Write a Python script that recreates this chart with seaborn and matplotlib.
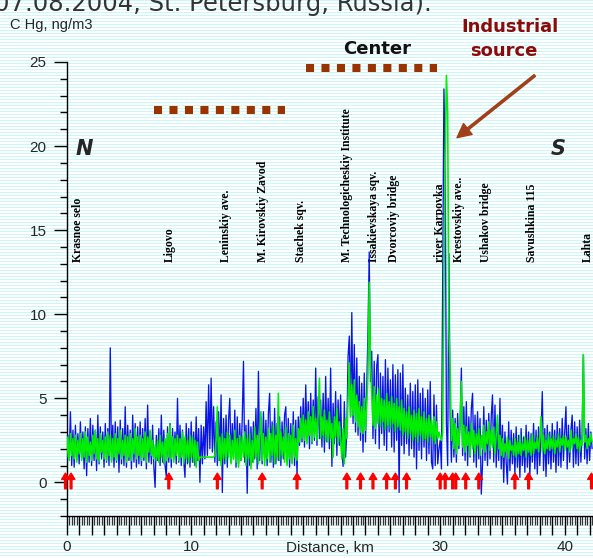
import numpy as np
import pandas as pd
import matplotlib
matplotlib.use("Agg")
import matplotlib.pyplot as plt
from matplotlib.ticker import MultipleLocator, FuncFormatter
from matplotlib import font_manager as fm
import seaborn as sns

# ---------------- data ----------------
distance_km = np.round(np.arange(0, 42.25, 0.1), 1)

hg_blue = [
    1.2, 2.8, 1.5, 4.2, 1.0, 3.1, 0.9, 3.4, 1.3, 2.9,
    1.1, 3.6, 1.4, 3.0, 0.8, 3.3, 0.4, 3.2, 1.2, 3.8,
    1.0, 3.4, 1.3, 3.1, 0.7, 4.0, 1.1, 3.3, 1.4, 3.0,
    0.9, 3.5, 1.2, 3.2, 1.0, 8.0, 1.3, 3.4, 0.9, 3.6,
    1.2, 3.3, 0.6, 3.7, 1.1, 3.2, 1.0, 4.5, 0.9, 3.4,
    1.3, 3.1, 0.8, 4.0, 1.2, 3.5, 0.9, 3.3, 1.1, 3.6,
    1.0, 3.2, 1.3, 3.8, 0.8, 4.6, 1.2, 3.0, 1.1, 3.4,
    0.9, -0.3, 2.8, 1.3, 3.2, 1.0, 4.0, 1.2, 3.1, 1.0,
    0.35, 3.3, 1.2, 3.5, 0.9, 3.2, 1.4, 3.0, 1.1, 5.0,
    1.2, 3.4, 1.0, 3.1, 1.3, 0.3, 3.5, 1.1, 3.2, 0.9,
    3.6, 1.2, 3.0, 1.0, 3.9, 1.3, 3.2, 0.0, 3.4, 1.1,
    3.3, 1.4, 4.8, 1.6, 5.8, 2.0, 6.2, 1.8, 4.5, 1.2,
    3.6, 1.0, 4.2, 1.3, 5.2, -0.6, 3.8, 1.1, 4.0, 0.9,
    3.7, 5.0, 1.2, 3.5, 1.4, 4.3, 0.9, 3.9, 1.1, 3.5,
    1.3, 3.8, 7.2, 1.2, 3.4, -0.65, 3.7, 1.0, 3.3, 1.2,
    3.6, 1.4, 4.4, 0.8, 6.6, 1.3, 3.9, 1.1, 4.2, 1.5,
    3.7, 1.0, 4.1, 5.3, 1.2, 3.6, 0.9, 4.4, 1.1, 3.5,
    1.3, 3.9, 1.0, 3.6, 1.4, 4.0, 4.5, 1.2, 3.8, 0.9,
    3.5, 1.2, 4.2, 1.0, 3.7, 0.4, 3.9, 2.2, 4.5, 2.4,
    5.0, 2.1, 5.8, 2.6, 4.8, 2.0, 5.3, 2.3, 4.9, 2.5,
    6.8, 2.2, 5.1, 2.6, 4.9, 2.1, 5.3, 1.8, 6.3, 2.4,
    5.0, 2.0, 6.8, 0.95, 4.7, 2.3, 5.4, 1.6, 4.9, 2.2,
    5.2, 1.9, 0.95, 4.8, 1.5, 3.0, 7.5, 8.7, 3.9, 10.1,
    3.5, 8.2, 3.0, 7.4, 2.8, 6.3, 2.5, 5.9, 1.8, 6.5,
    2.4, 5.8, 9.0, 13.7, 6.0, 7.8, 2.6, 7.2, 2.3, 6.9,
    7.6, 2.0, 6.5, 2.9, 6.3, 2.2, 7.3, 1.9, 6.8, 3.0,
    6.1, 2.1, 7.0, 1.8, 6.4, 2.5, 6.7, -0.6, 6.5, 2.2,
    7.0, 1.7, 5.6, 2.3, 5.2, 1.6, 5.9, 2.0, 5.4, 1.5,
    5.8, 0.8, 6.1, 1.9, 5.3, 1.4, 5.6, 2.1, 5.0, 1.3,
    5.5, 1.7, 6.0, 1.2, 0.8, 5.2, 1.0, 4.6, 1.1, 2.0,
    2.5, 0.8, 12.2, 23.4, 19.0, 3.5, 1.0, 13.6, 4.0, 1.2,
    4.3, 1.5, 3.8, 1.2, 4.1, 2.0, 3.6, 6.8, 1.6, 4.5,
    1.3, 4.8, 1.0, 3.9, 1.5, 4.4, 5.3, 1.2, 4.0, 0.9,
    4.2, 1.4, 3.8, -0.7, 1.1, 4.5, 1.3, 3.7, 1.0, 4.1,
    1.4, 3.9, 5.2, 1.2, 4.6, 0.9, 3.5, 1.3, 5.0, 0.8,
    3.4, 0.0, 3.0, 1.2, -0.1, 3.6, 0.7, 3.1, 1.1, 2.9,
    0.5, 3.3, 0.9, 2.8, 0.3, 3.2, 1.0, 2.7, 0.6, 3.4,
    0.9, 3.0, 0.4, 2.9, 1.2, 3.5, 0.8, 3.1, 0.5, 3.3,
    1.0, 2.9, 5.4, 0.7, 3.2, 0.35, 3.4, 1.1, 3.0, 0.8,
    3.5, 1.2, 3.1, 0.6, 3.6, 1.0, 3.2, 0.9, 3.8, 1.3,
    3.0, 4.5, 0.8, 3.4, 1.2, 3.1, 4.0, 0.9, 3.6, 1.1,
    3.3, 1.0, 3.7, 1.2, 3.0, 7.6, 1.4, 3.2, 1.1, 3.5,
    1.3, 3.0, 2.0,
]

hg_green = [
    1.5, 2.7, 1.3, 2.9, 1.6, 2.6, 1.4, 2.8, 1.2, 2.5,
    1.7, 2.9, 1.3, 2.6, 1.5, 3.0, 1.2, 2.7, 1.6, 2.4,
    1.3, 2.8, 1.7, 3.1, 1.4, 2.6, 1.2, 2.9, 1.8, 2.5,
    1.4, 2.7, 1.3, 3.0, 1.6, 2.8, 1.2, 2.6, 1.5, 2.9,
    1.3, 2.6, 1.7, 3.1, 1.4, 2.5, 1.6, 2.8, 1.2, 2.7,
    1.5, 2.9, 1.3, 2.6, 1.7, 3.2, 1.4, 2.7, 1.6, 2.8,
    1.3, 2.6, 1.5, 3.0, 1.2, 2.7, 1.8, 3.1, 1.6, 2.5,
    1.4, 2.2, 1.3, 2.5, 1.2, 2.8, 1.5, 2.4, 1.1, 2.6,
    1.3, 2.9, 1.5, 3.4, 1.4, 2.7, 1.2, 2.6, 1.6, 2.8,
    1.3, 2.6, 1.5, 3.0, 1.1, 2.7, 1.4, 2.5, 1.2, 2.8,
    1.5, 2.7, 1.2, 2.5, 0.9, 2.4, 1.3, 1.5, 1.5, 1.5,
    1.5, 1.5, 1.5, 1.5, 1.5, 1.5, 1.5, 1.5, 1.5, 1.6,
    2.5, 4.5, 1.3, 2.7, 1.0, 2.9, 1.4, 2.6, 1.2, 3.0,
    1.5, 2.8, 1.1, 2.5, 1.4, 3.1, 1.2, 2.6, 0.9, 2.8,
    1.3, 2.7, 1.5, 3.0, 1.0, 2.6, 1.4, 2.9, 0.8, 2.5,
    1.2, 3.3, 1.5, 2.8, 1.1, 2.6, 4.2, 1.3, 2.9, 1.0,
    2.7, 1.4, 3.2, 1.2, 2.9, 1.6, 3.4, 1.1, 2.8, 1.5,
    5.3, 1.3, 3.0, 1.6, 2.7, 1.2, 3.3, 1.0, 2.9, 1.4,
    2.8, 1.1, 3.4, 1.5, 2.6, 1.3, 3.2, 2.4, 3.8, 2.6,
    4.0, 2.5, 3.7, 2.3, 4.2, 2.8, 3.9, 2.4, 4.5, 2.7,
    3.8, 2.5, 4.1, 6.2, 2.6, 3.9, 2.8, 4.3, 2.5, 3.7,
    2.4, 4.2, 2.6, 3.5, 1.5, 3.9, 2.7, 4.4, 2.3, 3.6,
    2.5, 1.4, 3.2, 1.1, 3.8, 2.6, 5.0, 7.1, 3.9, 5.8,
    4.0, 6.1, 3.6, 5.2, 3.3, 4.8, 3.0, 4.5, 2.9, 5.0,
    3.1, 4.6, 6.5, 11.9, 7.0, 5.4, 3.4, 5.7, 3.2, 5.2,
    3.5, 5.6, 3.3, 5.0, 3.6, 4.9, 3.1, 5.3, 3.4, 4.8,
    3.2, 5.1, 3.5, 4.7, 3.0, 5.0, 3.3, 4.5, 3.1, 4.9,
    2.8, 4.4, 3.0, 4.2, 2.6, 4.5, 2.9, 4.0, 2.5, 4.3,
    2.7, 4.1, 2.4, 4.4, 2.8, 3.9, 2.5, 4.2, 2.6, 3.8,
    2.4, 4.0, 2.7, 3.7, 2.5, 3.9, 2.3, 3.6, 2.6, 3.0,
    2.7, 2.5, 3.0, 12.0, 19.3, 24.2, 22.0, 9.0, 6.7, 2.5,
    3.8, 2.0, 3.5, 1.7, 3.2, 2.2, 3.6, 6.0, 2.1, 3.4,
    1.8, 3.3, 2.2, 3.0, 1.6, 3.5, 2.0, 3.1, 1.7, 2.9,
    2.2, 3.2, 1.6, 2.8, 2.0, 3.4, 1.8, 3.0, 2.3, 3.6,
    1.9, 3.1, 2.1, 3.3, 1.7, 2.9, 4.0, 2.0, 2.8, 1.6,
    2.6, 1.5, 2.3, 1.8, 2.7, 1.4, 2.5, 1.9, 2.2, 1.6,
    2.6, 1.5, 2.4, 1.7, 2.8, 1.6, 2.3, 1.9, 2.7, 1.5,
    2.5, 1.8, 2.6, 1.6, 2.9, 1.7, 2.4, 2.0, 2.7, 1.8,
    2.6, 3.9, 1.8, 2.8, 1.7, 2.5, 2.0, 2.9, 1.9, 2.6,
    2.0, 2.8, 1.7, 2.5, 2.1, 2.9, 1.8, 2.6, 2.2, 2.8,
    1.9, 2.7, 2.1, 2.5, 1.8, 3.1, 2.0, 2.6, 2.3, 2.9,
    2.0, 2.7, 1.8, 2.5, 2.2, 7.6, 2.4, 2.8, 2.0, 2.6,
    2.2, 2.9, 2.4,
]

station_names = ["Krasnoe selo", "Ligovo", "Leninskiy ave.", "M. Kirovskiy Zavod",
                 "Stachek sqv.", "M. Technologicheskiy Institute", "Issakievskaya sqv.",
                 "Dvorcoviy bridge", "river Karpovka", "Krestovskiy ave..",
                 "Ushakov bridge", "Savushkina 115", "Lahta"]
station_km = [0.92, 8.3, 12.8, 15.8, 18.8, 22.5, 24.7, 26.3, 30.0, 31.5, 33.7, 37.4, 41.9]

marker_km = [-0.1, 0.35, 8.2, 12.1, 15.7, 18.5, 22.5, 23.6, 24.6, 25.7, 26.4, 27.3,
             30.0, 30.4, 31.0, 31.25, 32.05, 33.1, 36.0, 37.1, 42.15]

x_tick_labels = {0: "0", 10: "10", 30: "30", 40: "40"}

# zone bars (km start, km end, level)
zone_suburb = (7.04, 17.53, 22.14)
zone_center = (19.23, 29.74, 24.65)

# ---------------- figure ----------------
sns.set_style("ticks")
names = {f.name for f in fm.fontManager.ttflist}
narrow = "Liberation Sans Narrow" if "Liberation Sans Narrow" in names else "Liberation Sans"
plt.rcParams["font.family"] = ["DejaVu Sans"]

W, H = 593, 558
fig = plt.figure(figsize=(W / 100, H / 100), dpi=100, facecolor="white")

bg = np.ones((H, W, 3))
bg[::3] = (0.80, 0.97, 0.97)
fig.figimage(bg, 0, 0, zorder=-10)

ax = fig.add_axes([66.7 / W, 1 - 516 / H, (W - 66.7) / W, (516 - 62) / H])
ax.set_facecolor("none")

df = pd.DataFrame({"km": distance_km, "blue": hg_blue, "green": hg_green})
sns.lineplot(data=df, x="km", y="blue", ax=ax, color="#0a14e6", linewidth=0.95,
             estimator=None, sort=False, zorder=3)
sns.lineplot(data=df, x="km", y="green", ax=ax, color="#00ee00", linewidth=1.15,
             estimator=None, sort=False, zorder=4)

ax.set_xlim(0, (W - 66.7) / 12.45)
ax.set_ylim(-2, 25)

for s in ["top", "right"]:
    ax.spines[s].set_visible(False)
for s in ["left", "bottom"]:
    ax.spines[s].set_color("black")
    ax.spines[s].set_linewidth(1.0)

ax.set_yticks([0, 5, 10, 15, 20, 25])
ax.yaxis.set_minor_locator(MultipleLocator(1))
ax.xaxis.set_major_locator(MultipleLocator(1))
ax.xaxis.set_minor_locator(MultipleLocator(0.2))
ax.xaxis.set_major_formatter(FuncFormatter(lambda v, p: x_tick_labels.get(int(round(v)), "")))
ax.tick_params(axis="y", which="major", length=9.4, width=1, pad=5, labelsize=11, color="black")
ax.tick_params(axis="y", which="minor", length=5, width=1, color="black")
ax.tick_params(axis="x", which="major", length=13.7, width=1, pad=3.5, labelsize=11, color="black")
ax.tick_params(axis="x", which="minor", length=6.7, width=0.9, color="#333333")
for lab in ax.get_xticklabels() + ax.get_yticklabels():
    lab.set_family([narrow, "DejaVu Sans"])
ax.set_xlabel("")
ax.set_ylabel("")

ax.text(0.5, -32 / 454, "Distance, km", transform=ax.transAxes, ha="center", va="center",
        fontsize=11, family=[narrow, "DejaVu Sans"])
fig.text(10 / W, 1 - 25 / H, "C Hg, ng/m3", ha="left", va="center", fontsize=10.5,
         family=[narrow, "DejaVu Sans"])

# partially visible title at the top edge
fig.text(432 / W, 1 - 11 / H, "07.08.2004, St. Petersburg, Russia).", ha="right",
         va="baseline", fontsize=17.5, color="#333333")

# station labels
for name, km in zip(station_names, station_km):
    ax.text(km, 13.1, name, rotation=90, ha="center", va="bottom", fontsize=8.5,
            fontweight="bold", family=["Liberation Serif", "DejaVu Serif"], color="black",
            zorder=2)

# N / S
ax.text(1.45, 19.8, "N", fontsize=15, fontweight="bold", style="italic", ha="center",
        va="center")
ax.text(39.5, 19.85, "S", fontsize=15, fontweight="bold", style="italic", ha="center",
        va="center")

# zone bars
for x0, x1, lvl in (zone_suburb, zone_center):
    ax.plot([x0, x1], [lvl, lvl], color="#993300", linewidth=5.8, dashes=(1, 0.92),
            solid_capstyle="butt", dash_capstyle="butt", clip_on=False, zorder=5)

ax.text(24.9, 25.8, "Center", fontsize=13, fontweight="bold", color="#111111",
        ha="center", va="center", clip_on=False)
fig.text(510 / W, 1 - 27 / H, "Industrial", fontsize=13, fontweight="bold",
         color="#8b0a0a", ha="center", va="center")
fig.text(504 / W, 1 - 51 / H, "source", fontsize=13, fontweight="bold",
         color="#8b0a0a", ha="center", va="center")

# brown arrow pointing at the source peak
ax.annotate("", xy=(31.35, 20.5), xytext=(37.6, 24.2),
            arrowprops=dict(facecolor="#a0401a", edgecolor="#a0401a", width=1.6,
                            headwidth=10, headlength=10, shrink=0),
            annotation_clip=False, zorder=6)

# red location markers
for km in marker_km:
    ax.annotate("", xy=(km, 0.55), xytext=(km, -0.38),
                arrowprops=dict(facecolor="#ff0000", edgecolor="#ff0000", width=1.3,
                                headwidth=5.5, headlength=4.5, shrink=0),
                annotation_clip=False, zorder=6)

fig.savefig("out.png", dpi=100, facecolor="white")
